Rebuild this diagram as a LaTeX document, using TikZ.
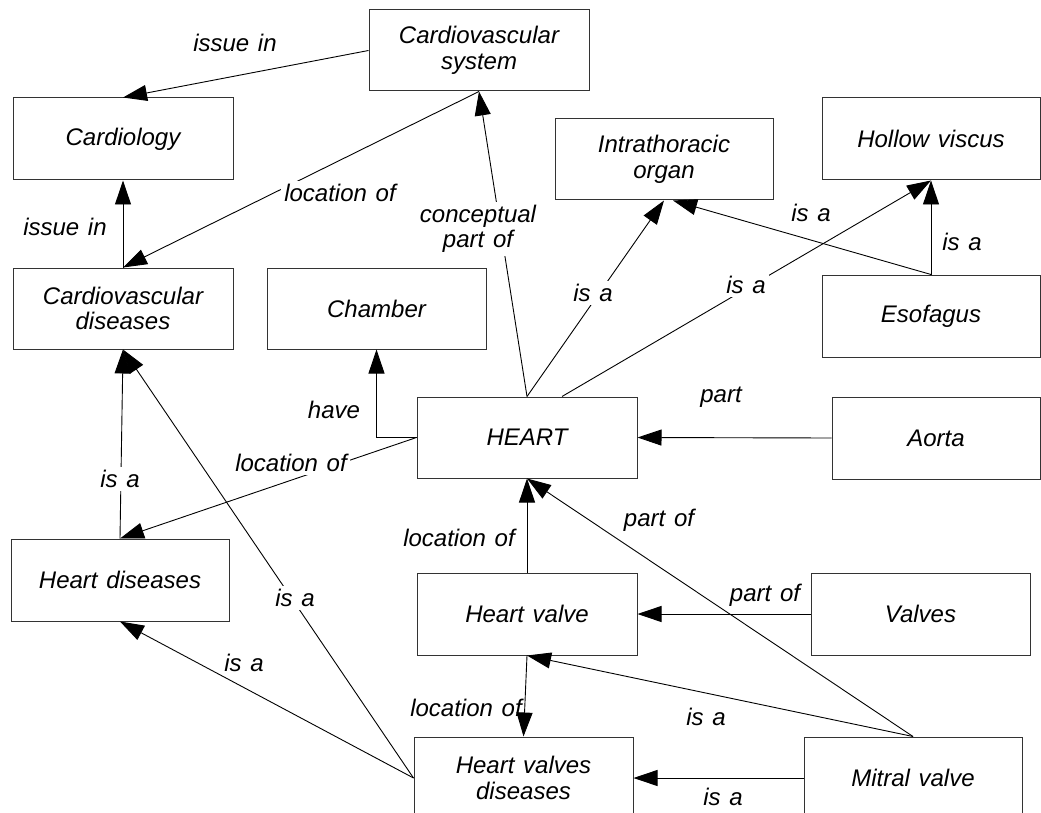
\documentclass[tikz,border=0pt]{standalone}
\usepackage{fontspec}
\setmainfont{Liberation Sans}[WordSpace=1.3]
\usetikzlibrary{arrows.meta}
\newcommand{\dgfont}{\fontsize{24}{25.5}\selectfont\itshape}
\begin{document}
\begin{tikzpicture}[x=1pt,y=-1pt,
  box/.style={draw=black!80, line width=1pt, minimum width=220pt, minimum height=82pt,
              inner sep=0pt, align=center, font=\dgfont},
  rel/.style={-{Triangle[length=24pt,width=16pt]}, line width=0.9pt},
  lbl/.style={font=\dgfont, inner sep=1pt, align=center},
  mask/.style={lbl, fill=white, inner sep=3pt},
]
\useasboundingbox (0,0) rectangle (1041,813);
\clip (0,0) rectangle (1041,813);

% concepts
\node[box, minimum height=81pt] (cs) at (479,50.5) {Cardiovascular\\system};
\node[box] (cardio) at (123,139) {Cardiology};
\node[box, minimum width=218pt, minimum height=81pt] (intra) at (664,159.5) {Intrathoracic\\organ};
\node[box, minimum width=218pt] (hollow) at (931,139) {Hollow viscus};
\node[box, minimum height=81pt] (cvd) at (123,308.5) {Cardiovascular\\diseases};
\node[box, minimum width=219pt, minimum height=81pt] (chamber) at (376.5,308.5) {Chamber};
\node[box, minimum width=218pt] (esof) at (931,316) {Esofagus};
\node[box, minimum height=81pt] (heart) at (527,437.5) {HEART};
\node[box, minimum width=208pt] (aorta) at (936,438) {Aorta};
\node[box, minimum width=218pt] (hd) at (120,580) {Heart diseases};
\node[box] (hv) at (527,614) {Heart valve};
\node[box, minimum width=219pt] (valves) at (920.5,614) {Valves};
\node[box, minimum width=219pt] (hvd) at (523.5,778) {Heart valves\\diseases};
\node[box, minimum width=218pt] (mitral) at (913,778) {Mitral valve};

% relations
\draw[rel] (cs.west) -- (cardio.north);
\draw[rel] (cvd.north) -- (cardio.south);
\draw[rel] (cs.south) -- (cvd.north);
\draw[rel] (heart.north) -- (cs.south);
\draw[rel] (heart.north) -- (intra.south);
\draw[rel] ([xshift=35pt]heart.north) -- (hollow.south);
\draw[rel] (esof.north) -- (hollow.south);
\draw[rel] (esof.north) -- ([xshift=9pt]intra.south);
\draw[rel] (aorta.west) -- (heart.east);
\draw[rel] (heart.west) -| (chamber.south);
\draw[rel] (heart.west) -- (hd.north);
\draw[rel] (hd.north) -- (cvd.south);
\draw[rel] (hvd.west) -- (cvd.south);
\draw[rel] (hvd.west) -- (hd.south);
\draw[rel] (hv.north) -- (heart.south);
\draw[rel] (mitral.north) -- (heart.south);
\draw[rel] (valves.west) -- (hv.east);
\draw[rel] (hv.south) -- (hvd.north);
\draw[rel] (mitral.north) -- (hv.south);
\draw[rel] (mitral.west) -- (hvd.east);

% relation names
\node[lbl] (l1) at (235,43) {issue in};
\node[lbl] (l2) at (65,227) {issue in};
\node[mask] (l3) at (340,193) {location of};
\node[mask] (l4) at (478,229) {conceptual\\part of};
\node[mask] (l5) at (593,293) {is a};
\node[mask] (l6) at (746,285) {is a};
\node[lbl] (l7) at (811,213) {is a};
\node[lbl] (l8) at (962,242) {is a};
\node[lbl] (l9) at (334,410) {have};
\node[lbl] (l10) at (721,397) {part};
\node[mask] (l11) at (291,463) {location of};
\node[mask] (l12) at (120,479) {is a};
\node[mask] (l13) at (295,598) {is a};
\node[lbl] (l14) at (244,663) {is a};
\node[lbl] (l15) at (459,538) {location of};
\node[lbl] (l16) at (659,520) {part of};
\node[lbl] (l17) at (765,595) {part of};
\node[lbl] (l18) at (466,708) {location of};
\node[lbl] (l19) at (706,717) {is a};
\node[lbl] (l20) at (723,797) {is a};
\end{tikzpicture}
\end{document}
